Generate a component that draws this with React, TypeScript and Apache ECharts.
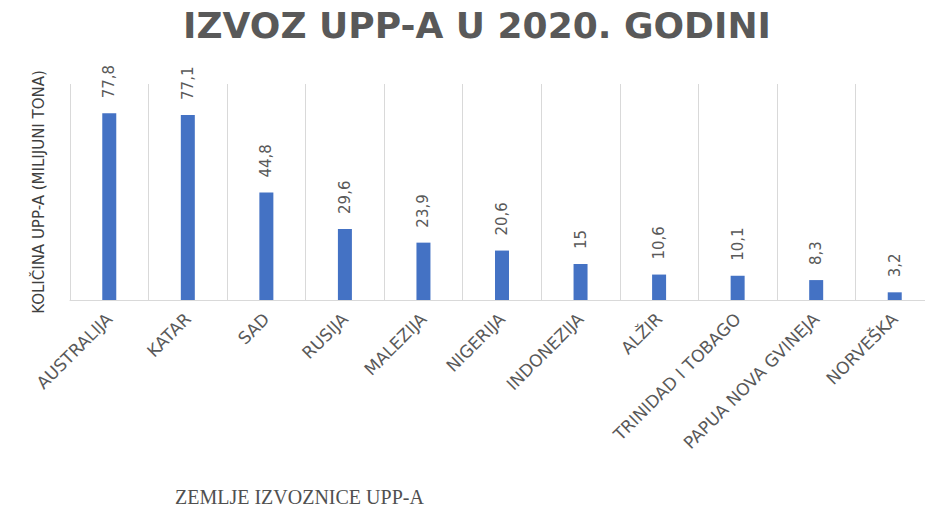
import React, { useEffect, useRef } from "react";
import * as echarts from "echarts";

const categories = [
  "AUSTRALIJA",
  "KATAR",
  "SAD",
  "RUSIJA",
  "MALEZIJA",
  "NIGERIJA",
  "INDONEZIJA",
  "ALŽIR",
  "TRINIDAD I TOBAGO",
  "PAPUA NOVA GVINEJA",
  "NORVEŠKA",
];
const values = [77.8, 77.1, 44.8, 29.6, 23.9, 20.6, 15, 10.6, 10.1, 8.3, 3.2];
const titleText = "IZVOZ UPP-A U 2020. GODINI";
const yAxisName = "KOLIČINA UPP-A (MILIJUNI TONA)";
const xAxisName = "ZEMLJE IZVOZNICE UPP-A";

export default function App() {
  const ref = useRef<HTMLDivElement>(null);
  useEffect(() => {
    if (!ref.current) return;
    const chart = echarts.init(ref.current, undefined, { renderer: "svg" });
    chart.setOption({
      animation: false,
      backgroundColor: "#ffffff",
      title: {
        text: titleText,
        left: 472,
        textAlign: "center",
        top: 2,
        textStyle: {
          fontFamily: "DejaVu Sans",
          fontWeight: "bold",
          fontSize: 36,
          color: "#595959",
        },
      },
      grid: {
        left: 70,
        top: 84,
        width: 864,
        height: 216,
        outerBoundsMode: "none",
        containLabel: false,
      },
      xAxis: {
        type: "category",
        data: categories,
        boundaryGap: true,
        axisLine: { show: true, lineStyle: { color: "#d9d9d9", width: 1 } },
        axisTick: { show: false },
        splitLine: { show: true, lineStyle: { color: "#d9d9d9", width: 1 } },
        axisLabel: {
          interval: 0,
          rotate: 45,
          margin: 16,
          fontFamily: "DejaVu Sans",
          fontSize: 17,
          color: "#595959",
        },
      },
      yAxis: {
        type: "value",
        min: 0,
        max: 90,
        axisLabel: { show: false },
        axisLine: { show: false },
        axisTick: { show: false },
        splitLine: { show: false },
        name: yAxisName,
        nameLocation: "middle",
        nameGap: 24,
        nameTextStyle: {
          fontFamily: "DejaVu Sans",
          fontSize: 15,
          color: "#404040",
        },
      },
      series: [
        {
          type: "bar",
          data: values,
          barWidth: 14,
          itemStyle: { color: "#4472c4" },
          label: {
            show: true,
            position: "top",
            rotate: 90,
            align: "left",
            verticalAlign: "middle",
            distance: 15,
            fontFamily: "DejaVu Sans",
            fontSize: 15,
            color: "#595959",
            formatter: (p: any) => String(p.value).replace(".", ","),
          },
        },
      ],
      graphic: [
        {
          type: "text",
          x: 175,
          y: 497,
          style: {
            text: xAxisName,
            fontFamily: "Liberation Serif",
            fontSize: 20,
            fill: "#505050",
            align: "left",
            verticalAlign: "middle",
          },
        },
      ],
    });
    return () => chart.dispose();
  }, []);
  return (
    <div
      ref={ref}
      style={{ position: "absolute", left: 0, top: 0, width: 925, height: 508 }}
    />
  );
}
